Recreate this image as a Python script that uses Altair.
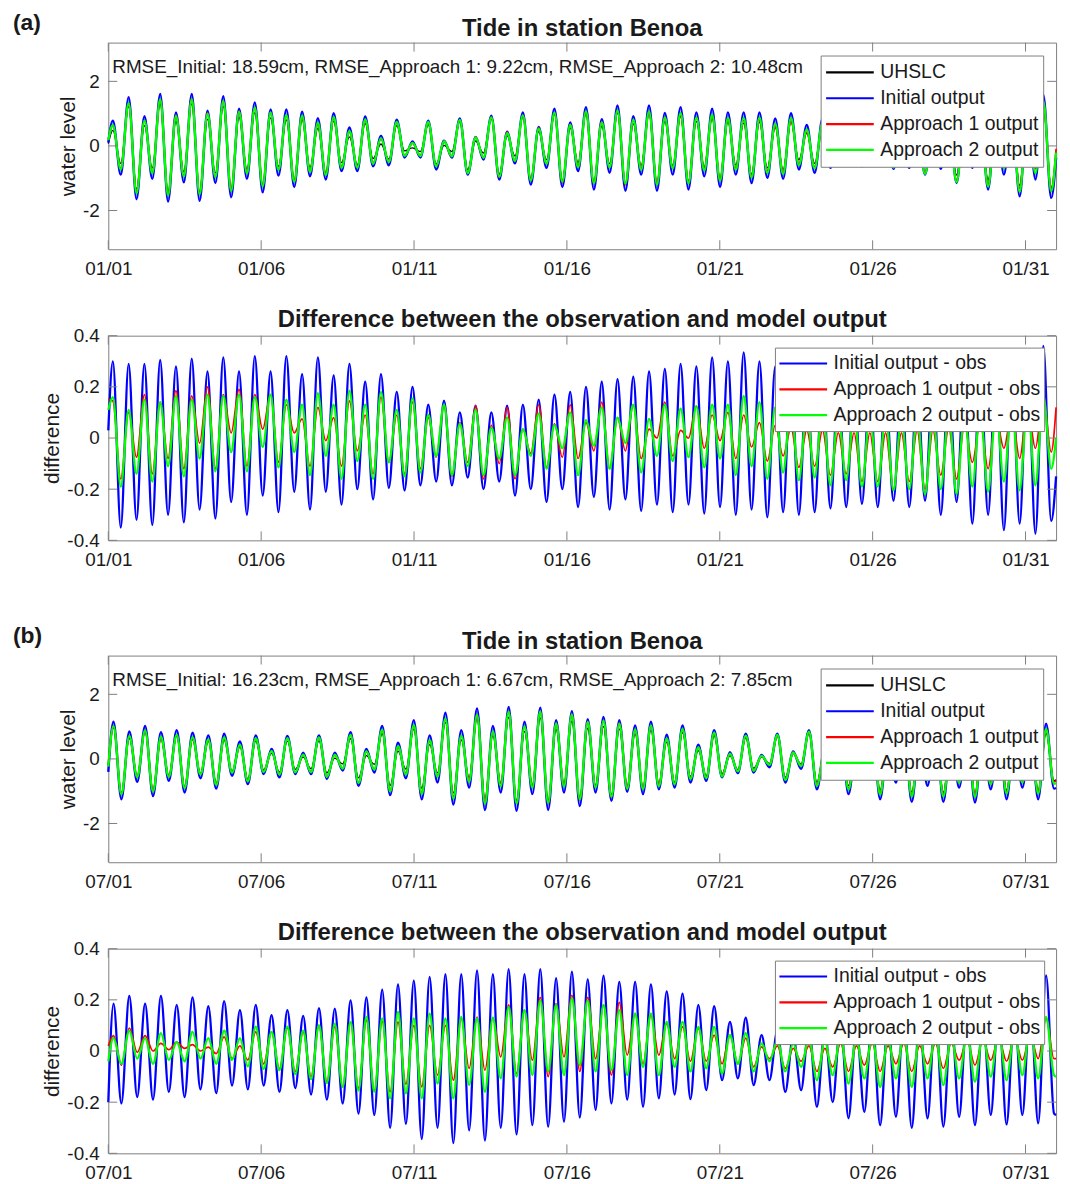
import altair as alt
import pandas as pd

FONT = "Liberation Sans"
TXT = "#1a1a1a"
FRAME = "#7f7f7f"

# ---------------- Panel (a): January ----------------
# times of the first high water and of half a tidal cycle (days)
A_T0 = 0.15
A_HALF = 0.2579
# Initial-output water level (blue) at successive high / low waters
A_INIT_HI = [
    0.78, 1.51, 0.92, 1.61, 1.04, 1.61, 1.09, 1.54, 1.15, 1.35,
    1.13, 1.13, 1.06, 0.86, 1.01, 0.57, 0.91, 0.31, 0.81, 0.14,
    0.78, 0.16, 0.85, 0.28, 0.94, 0.44, 1.04, 0.59, 1.15, 0.73,
    1.20, 0.83, 1.25, 0.92, 1.25, 1.02, 1.20, 1.04, 1.15, 1.04,
    1.04, 1.04, 0.85, 1.01, 0.65, 0.85, 0.60, 0.75, 0.55, 0.70,
    0.60, 0.75, 0.75, 0.85, 0.95, 1.00, 1.15, 1.10, 1.35, 1.58]
A_INIT_LO = [
    -0.89, -1.65, -1.02, -1.72, -1.13, -1.70, -1.15, -1.59, -1.02, -1.44,
    -0.92, -1.27, -0.94, -1.04, -0.78, -0.78, -0.63, -0.60, -0.36, -0.36,
    -0.73, -0.36, -0.89, -0.42, -1.04, -0.54, -1.20, -0.68, -1.27, -0.78,
    -1.35, -0.83, -1.39, -0.89, -1.39, -0.89, -1.35, -0.94, -1.27, -0.89,
    -1.15, -0.99, -1.02, -0.73, -0.83, -0.68, -0.60, -0.63, -0.60, -0.71,
    -0.68, -0.89, -0.71, -1.15, -0.68, -1.35, -0.89, -1.56, -1.04, -1.61]
# differences (model - obs) at the same high / low waters
A_DINIT_HI = [
    0.30, 0.29, 0.29, 0.305, 0.28, 0.31, 0.26, 0.315, 0.26, 0.32,
    0.26, 0.32, 0.25, 0.315, 0.245, 0.29, 0.22, 0.25, 0.18, 0.20,
    0.13, 0.146, 0.10, 0.127, 0.10, 0.127, 0.13, 0.15, 0.17, 0.18,
    0.20, 0.22, 0.23, 0.24, 0.26, 0.27, 0.29, 0.28, 0.315, 0.30,
    0.335, 0.30, 0.28, 0.27, 0.25, 0.24, 0.22, 0.21, 0.20, 0.19,
    0.20, 0.20, 0.22, 0.24, 0.26, 0.28, 0.30, 0.30, 0.32, 0.36]
A_DINIT_LO = [
    -0.35, -0.32, -0.34, -0.30, -0.33, -0.28, -0.315, -0.25, -0.30, -0.225,
    -0.29, -0.21, -0.28, -0.21, -0.26, -0.20, -0.24, -0.195, -0.205, -0.185,
    -0.17, -0.185, -0.155, -0.20, -0.17, -0.225, -0.20, -0.25, -0.20, -0.27,
    -0.23, -0.28, -0.24, -0.285, -0.26, -0.29, -0.26, -0.295, -0.27, -0.30,
    -0.28, -0.31, -0.29, -0.30, -0.29, -0.275, -0.27, -0.257, -0.27, -0.245,
    -0.27, -0.245, -0.30, -0.25, -0.335, -0.30, -0.36, -0.335, -0.374, -0.325]
A_DA1_HI = [
    0.145, 0.10, 0.17, 0.14, 0.185, 0.165, 0.20, 0.17, 0.19, 0.17,
    0.17, 0.13, 0.075, 0.12, 0.08, 0.145, 0.09, 0.16, 0.09, 0.14,
    0.08, 0.13, 0.06, 0.127, 0.05, 0.12, 0.035, 0.13, 0.055, 0.13,
    0.06, 0.14, 0.08, 0.13, 0.035, 0.14, 0.03, 0.125, 0.09, 0.10,
    0.09, 0.06, 0.05, 0.04, 0.03, 0.03, 0.02, 0.02, 0.02, 0.02,
    0.02, 0.03, 0.03, 0.04, 0.05, 0.06, 0.08, 0.10, 0.12, 0.16]
A_DA1_LO = [
    -0.16, -0.075, -0.14, -0.08, -0.12, -0.02, -0.12, 0.02, -0.11, 0.035,
    -0.095, 0.02, -0.11, -0.01, -0.11, -0.05, -0.14, -0.095, -0.14, -0.12,
    -0.075, -0.15, -0.095, -0.16, -0.10, -0.16, -0.06, -0.115, -0.075, -0.08,
    -0.05, -0.12, -0.05, -0.08, 0.0, -0.07, 0.0, -0.04, -0.01, -0.08,
    -0.035, -0.09, -0.07, -0.115, -0.11, -0.145, -0.14, -0.17, -0.17, -0.20,
    -0.17, -0.20, -0.145, -0.16, -0.095, -0.12, -0.04, -0.08, -0.04, -0.055]
A_DA2_HI = [
    0.16, 0.11, 0.15, 0.14, 0.165, 0.15, 0.17, 0.165, 0.17, 0.16,
    0.17, 0.15, 0.13, 0.175, 0.13, 0.185, 0.13, 0.18, 0.11, 0.155,
    0.09, 0.13, 0.055, 0.11, 0.04, 0.08, 0.035, 0.095, 0.05, 0.10,
    0.07, 0.12, 0.08, 0.13, 0.075, 0.13, 0.115, 0.125, 0.13, 0.13,
    0.165, 0.14, 0.12, 0.13, 0.11, 0.12, 0.10, 0.10, 0.09, 0.09,
    0.08, 0.09, 0.09, 0.10, 0.10, 0.11, 0.12, 0.13, 0.14, 0.165]
A_DA2_LO = [
    -0.19, -0.14, -0.17, -0.11, -0.15, -0.08, -0.13, -0.055, -0.13, -0.035,
    -0.115, -0.055, -0.145, -0.07, -0.16, -0.09, -0.16, -0.095, -0.15, -0.135,
    -0.07, -0.145, -0.11, -0.145, -0.08, -0.145, -0.07, -0.12, -0.04, -0.145,
    -0.03, -0.12, -0.02, -0.135, -0.07, -0.09, -0.075, -0.115, -0.08, -0.145,
    -0.11, -0.16, -0.135, -0.165, -0.155, -0.185, -0.165, -0.19, -0.19, -0.205,
    -0.20, -0.22, -0.20, -0.22, -0.19, -0.21, -0.17, -0.205, -0.185, -0.12]
# values at the first and last instant of the month: init, d_init, d_a1, d_a2
A_START = [0.10, 0.03, 0.15, 0.11]
A_END = [-0.36, -0.15, 0.12, 0.0]
A_RMSE = "RMSE_Initial: 18.59cm, RMSE_Approach 1: 9.22cm, RMSE_Approach 2: 10.48cm"

# ---------------- Panel (b): July ----------------
B_T0 = 0.17
B_HALF = 0.2585
B_INIT_HI = [
    1.15, 0.85, 1.02, 0.83, 0.89, 0.81, 0.73, 0.78, 0.54, 0.73,
    0.31, 0.71, 0.19, 0.73, 0.19, 0.83, 0.31, 1.02, 0.50, 1.20,
    0.73, 1.43, 0.89, 1.56, 1.02, 1.61, 1.15, 1.59, 1.20, 1.48,
    1.23, 1.30, 1.20, 1.04, 1.15, 0.75, 1.04, 0.44, 0.89, 0.21,
    0.78, 0.125, 0.78, 0.23, 0.89, 0.35, 0.90, 0.45, 0.95, 0.55,
    1.00, 0.65, 1.00, 0.70, 1.00, 0.75, 1.00, 0.80, 0.95, 1.09]
B_INIT_LO = [
    -1.25, -0.71, -1.15, -0.68, -1.04, -0.60, -0.92, -0.52, -0.78, -0.47,
    -0.57, -0.47, -0.47, -0.62, -0.36, -0.83, -0.42, -1.12, -0.60, -1.25,
    -0.73, -1.41, -0.89, -1.58, -1.04, -1.61, -1.09, -1.58, -1.04, -1.46,
    -1.04, -1.30, -1.02, -1.09, -0.94, -0.89, -0.73, -0.68, -0.57, -0.44,
    -0.42, -0.26, -0.73, -0.31, -0.94, -0.50, -1.09, -0.62, -1.25, -0.73,
    -1.33, -0.83, -1.33, -0.89, -1.35, -0.94, -1.25, -0.89, -1.25, -0.92]
B_DINIT_HI = [
    0.185, 0.215, 0.185, 0.215, 0.18, 0.21, 0.175, 0.195, 0.16, 0.18,
    0.14, 0.16, 0.137, 0.168, 0.166, 0.198, 0.21, 0.24, 0.26, 0.275,
    0.29, 0.30, 0.30, 0.315, 0.30, 0.32, 0.30, 0.32, 0.285, 0.31,
    0.28, 0.295, 0.27, 0.27, 0.26, 0.233, 0.224, 0.18, 0.175, 0.114,
    0.13, 0.062, 0.08, 0.06, 0.10, 0.08, 0.12, 0.10, 0.14, 0.12,
    0.15, 0.13, 0.16, 0.14, 0.16, 0.15, 0.17, 0.16, 0.20, 0.296]
B_DINIT_LO = [
    -0.205, -0.18, -0.19, -0.16, -0.18, -0.15, -0.165, -0.135, -0.15, -0.135,
    -0.16, -0.145, -0.17, -0.19, -0.205, -0.245, -0.25, -0.30, -0.285, -0.344,
    -0.30, -0.36, -0.31, -0.35, -0.30, -0.326, -0.29, -0.296, -0.276, -0.26,
    -0.23, -0.205, -0.19, -0.218, -0.185, -0.17, -0.188, -0.153, -0.114, -0.107,
    -0.133, -0.114, -0.16, -0.153, -0.218, -0.20, -0.263, -0.238, -0.29, -0.257,
    -0.30, -0.263, -0.296, -0.257, -0.29, -0.25, -0.287, -0.25, -0.283, -0.244]
B_DA1_HI = [
    0.06, 0.09, 0.06, 0.03, 0.035, 0.025, 0.015, 0.055, 0.02, 0.075,
    0.075, 0.09, 0.075, 0.10, 0.095, 0.114, 0.12, 0.116, 0.114, 0.10,
    0.10, 0.10, 0.127, 0.133, 0.13, 0.18, 0.16, 0.21, 0.185, 0.218,
    0.21, 0.18, 0.19, 0.146, 0.14, 0.107, 0.094, 0.088, 0.062, 0.062,
    0.05, 0.016, 0.02, 0.01, 0.02, 0.01, 0.03, 0.02, 0.03, 0.02,
    0.03, 0.02, 0.03, 0.03, 0.04, 0.04, 0.05, 0.05, 0.06, 0.127]
B_DA1_LO = [
    -0.055, -0.005, 0.0, 0.005, 0.01, 0.0, -0.01, -0.03, -0.035, -0.05,
    -0.07, -0.08, -0.10, -0.12, -0.14, -0.145, -0.155, -0.16, -0.13, -0.14,
    -0.094, -0.114, -0.068, -0.075, -0.023, -0.088, -0.036, -0.10, -0.023, -0.08,
    -0.03, -0.094, -0.016, -0.05, -0.016, -0.03, -0.04, -0.04, -0.05, -0.05,
    -0.062, -0.03, -0.068, -0.04, -0.08, -0.062, -0.08, -0.055, -0.08, -0.05,
    -0.08, -0.05, -0.068, -0.036, -0.055, -0.036, -0.04, -0.036, -0.03, -0.03]
B_DA2_HI = [
    0.05, 0.08, 0.05, 0.07, 0.035, 0.075, 0.05, 0.08, 0.05, 0.095,
    0.075, 0.095, 0.08, 0.10, 0.107, 0.114, 0.133, 0.127, 0.153, 0.127,
    0.146, 0.127, 0.133, 0.127, 0.13, 0.172, 0.16, 0.198, 0.18, 0.207,
    0.198, 0.18, 0.16, 0.146, 0.146, 0.114, 0.114, 0.094, 0.094, 0.062,
    0.07, 0.03, 0.04, 0.03, 0.05, 0.04, 0.06, 0.05, 0.06, 0.05,
    0.07, 0.06, 0.07, 0.06, 0.07, 0.07, 0.08, 0.08, 0.10, 0.133]
B_DA2_LO = [
    -0.05, -0.03, -0.05, -0.035, -0.04, -0.03, -0.05, -0.035, -0.06, -0.07,
    -0.075, -0.09, -0.11, -0.125, -0.14, -0.155, -0.16, -0.185, -0.166, -0.185,
    -0.127, -0.185, -0.133, -0.16, -0.107, -0.10, -0.094, -0.08, -0.094, -0.055,
    -0.08, -0.075, -0.094, -0.062, -0.094, -0.062, -0.08, -0.068, -0.088, -0.05,
    -0.08, -0.04, -0.08, -0.062, -0.114, -0.094, -0.127, -0.107, -0.14, -0.107,
    -0.14, -0.107, -0.133, -0.107, -0.12, -0.10, -0.114, -0.094, -0.107, -0.094]
B_START = [-0.40, -0.20, 0.02, -0.04]
B_END = [-0.90, -0.25, -0.03, -0.10]
B_RMSE = "RMSE_Initial: 16.23cm, RMSE_Approach 1: 6.67cm, RMSE_Approach 2: 7.85cm"

# ---------------- labels / styles ----------------
WL_NAMES = ["UHSLC", "Initial output", "Approach 1 output", "Approach 2 output"]
WL_COLORS = ["#000000", "#0000ff", "#ff0000", "#00ff00"]
WL_WIDTHS = [1.3, 2.4, 1.7, 2.4]
DF_NAMES = ["Initial output - obs", "Approach 1 output - obs", "Approach 2 output - obs"]
DF_COLORS = ["#0000ff", "#ff0000", "#00ff00"]
DF_WIDTHS = [2.3, 1.7, 2.3]
XTICKS = [0, 5, 10, 15, 20, 25, 30]
WL_YTICKS = [-2, 0, 2]
DF_YTICKS = [-0.4, -0.2, 0, 0.2, 0.4]

W = 954
TICK = 9


def extrema_series(t0, half, hi, lo, start, end):
    days, vals = [0.0], [start]
    for k, (h, l) in enumerate(zip(hi, lo)):
        days += [t0 + 2 * k * half, t0 + (2 * k + 1) * half]
        vals += [h, l]
    days.append(31.0)
    vals.append(end)
    return days, vals


def month_frames(t0, half, init_hi, init_lo, di_hi, di_lo, d1_hi, d1_lo, d2_hi, d2_lo, start, end):
    days, init = extrema_series(t0, half, init_hi, init_lo, start[0], end[0])
    _, d_init = extrema_series(t0, half, di_hi, di_lo, start[1], end[1])
    _, d_a1 = extrema_series(t0, half, d1_hi, d1_lo, start[2], end[2])
    _, d_a2 = extrema_series(t0, half, d2_hi, d2_lo, start[3], end[3])
    obs = [i - d for i, d in zip(init, d_init)]
    a1 = [o + d for o, d in zip(obs, d_a1)]
    a2 = [o + d for o, d in zip(obs, d_a2)]
    wl_rows, df_rows = [], []
    for name, vals in zip(WL_NAMES, [obs, init, a1, a2]):
        wl_rows += [{"day": t, "value": v, "series": name} for t, v in zip(days, vals)]
    for name, vals in zip(DF_NAMES, [d_init, d_a1, d_a2]):
        df_rows += [{"day": t, "value": v, "series": name} for t, v in zip(days, vals)]
    return pd.DataFrame(wl_rows), pd.DataFrame(df_rows)


def panel(df, names, colors, widths, ydom, yticks, ytitle, h, month, title, title_dy,
          tag=None, note=None, legend_offset=13, legend_pad=4):
    x = alt.X("day:Q", scale=alt.Scale(domain=[0, 31], nice=False, zero=False),
              axis=alt.Axis(values=XTICKS,
                            labelExpr=f"'{month}/' + (datum.value < 9 ? '0' : '') + (datum.value + 1)",
                            title=None, grid=False, ticks=False, tickSize=0, domain=False,
                            labelFlush=False, labelOverlap=False, labelFont=FONT,
                            labelFontSize=19, labelColor=TXT, labelPadding=10))
    y = alt.Y("value:Q", scale=alt.Scale(domain=ydom, nice=False, zero=False),
              axis=alt.Axis(values=yticks, labelExpr="'' + datum.value", title=ytitle,
                            titleFont=FONT, titleFontSize=21, titleFontWeight="normal",
                            titleColor=TXT, titlePadding=4, grid=False, ticks=False, tickSize=0,
                            domain=False, labelFont=FONT, labelFontSize=19, labelColor=TXT,
                            labelPadding=9, labelFlush=False, labelOverlap=False))
    legend = alt.Legend(title=None, orient="top-right", offset=legend_offset,
                        symbolType="stroke", symbolSize=2304, symbolStrokeWidth=2.2,
                        clipHeight=26, rowPadding=0, padding=legend_pad,
                        labelFont=FONT, labelFontSize=19.5, labelColor=TXT, labelOffset=5,
                        labelLimit=0, strokeColor=FRAME, fillColor="white", cornerRadius=0)
    color = alt.Color("series:N", scale=alt.Scale(domain=names, range=colors), legend=legend)
    layers = []
    for n, w in zip(names, widths):
        layers.append(
            alt.Chart(df).transform_filter(alt.datum.series == n)
            .mark_line(strokeWidth=w, interpolate="monotone")
            .encode(x=x, y=y, color=color)
        )
    xt = pd.DataFrame({"day": XTICKS})
    yt = pd.DataFrame({"value": yticks})
    layers += [
        alt.Chart(xt).mark_rule(color=FRAME).encode(x=x, y=alt.value(h - TICK), y2=alt.value(h)),
        alt.Chart(xt).mark_rule(color=FRAME).encode(x=x, y=alt.value(0), y2=alt.value(TICK)),
        alt.Chart(yt).mark_rule(color=FRAME).encode(y=y, x=alt.value(0), x2=alt.value(TICK)),
        alt.Chart(yt).mark_rule(color=FRAME).encode(y=y, x=alt.value(W - TICK), x2=alt.value(W)),
    ]
    layers.append(
        alt.Chart(pd.DataFrame({"t": [title]}))
        .mark_text(font=FONT, fontSize=24, fontWeight="bold", color=TXT, align="center", baseline="middle")
        .encode(x=alt.value(W / 2), y=alt.value(title_dy), text="t:N")
    )
    if tag:
        layers.append(
            alt.Chart(pd.DataFrame({"t": [tag]}))
            .mark_text(font=FONT, fontSize=23, fontWeight="bold", color=TXT, align="left", baseline="middle")
            .encode(x=alt.value(-96), y=alt.value(-20), text="t:N")
        )
    if note:
        layers.append(
            alt.Chart(pd.DataFrame({"t": [note]}))
            .mark_text(font=FONT, fontSize=19, color=TXT, align="left", baseline="middle")
            .encode(x=alt.value(4), y=alt.value(25), text="t:N")
        )
    return alt.layer(*layers).properties(width=W, height=h)


a_wl, a_df = month_frames(A_T0, A_HALF, A_INIT_HI, A_INIT_LO, A_DINIT_HI, A_DINIT_LO,
                          A_DA1_HI, A_DA1_LO, A_DA2_HI, A_DA2_LO, A_START, A_END)
b_wl, b_df = month_frames(B_T0, B_HALF, B_INIT_HI, B_INIT_LO, B_DINIT_HI, B_DINIT_LO,
                          B_DA1_HI, B_DA1_LO, B_DA2_HI, B_DA2_LO, B_START, B_END)

TITLE_WL = "Tide in station Benoa"
TITLE_DF = "Difference between the observation and model output"

a1 = panel(a_wl, WL_NAMES, WL_COLORS, WL_WIDTHS, [-3.2, 3.2], WL_YTICKS, "water level", 208,
           "01", TITLE_WL, -14, tag="(a)", note=A_RMSE, legend_offset=13, legend_pad=4)
a2 = panel(a_df, DF_NAMES, DF_COLORS, DF_WIDTHS, [-0.4, 0.4], DF_YTICKS, "difference", 206,
           "01", TITLE_DF, -16, legend_offset=12, legend_pad=3)
b1 = panel(b_wl, WL_NAMES, WL_COLORS, WL_WIDTHS, [-3.2, 3.2], WL_YTICKS, "water level", 208,
           "07", TITLE_WL, -14, tag="(b)", note=B_RMSE, legend_offset=13, legend_pad=4)
b2 = panel(b_df, DF_NAMES, DF_COLORS, DF_WIDTHS, [-0.4, 0.4], DF_YTICKS, "difference", 206,
           "07", TITLE_DF, -16, legend_offset=12, legend_pad=3)

top = alt.vconcat(a1, a2, spacing=28).resolve_scale(color="independent").resolve_legend(color="independent")
bottom = alt.vconcat(b1, b2, spacing=28).resolve_scale(color="independent").resolve_legend(color="independent")

chart = (
    alt.vconcat(top, bottom, spacing=54)
    .resolve_scale(color="independent")
    .resolve_legend(color="independent")
    .properties(padding={"left": 12, "top": 7, "right": 8, "bottom": 0}, background="white")
    .configure_view(stroke=FRAME, strokeWidth=1)
)

chart.save("out.html", embed_options={"renderer": "svg", "actions": False})
